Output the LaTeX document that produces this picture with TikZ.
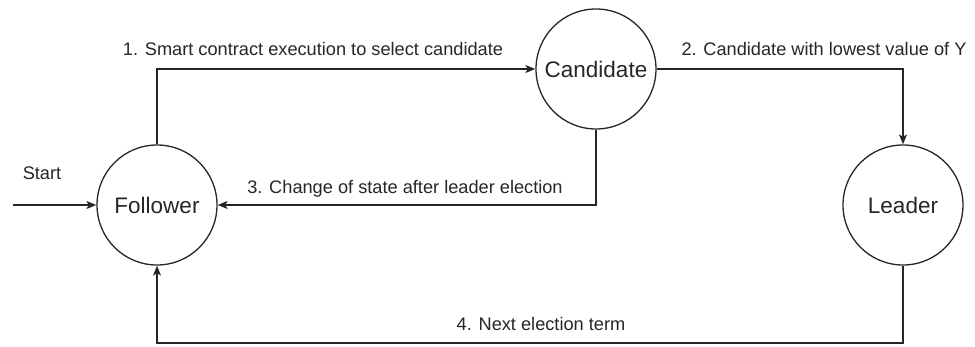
\documentclass[tikz,border=0pt]{standalone}
\usepackage{fontspec}
\setmainfont{Liberation Sans}
\usetikzlibrary{arrows.meta}
\begin{document}
\begin{tikzpicture}[x=1pt,y=-1pt,
  state/.style={draw=black!85, line width=1.3pt, circle, minimum size=120pt, inner sep=0pt, font=\fontsize{22.5}{26}\selectfont, text=black!85},
  arr/.style={draw=black!85, line width=1.3pt, -{Stealth[length=10pt,width=8pt,inset=2.5pt]}},
  lbl/.style={font=\fontsize{18.2}{21}\selectfont, text=black!85, inner sep=0pt}]
\useasboundingbox (0,0) rectangle (975,347);
\node[state] (F) at (157,205) {Follower};
\node[state] (C) at (596,69) {Candidate};
\node[state] (L) at (903,205) {Leader};
\coordinate (s) at (13,205);
\coordinate (b) at (903,343);
\draw[arr] (s) -- (F.west);
\draw[arr] (F.north) |- (C.west);
\draw[arr] (C.east) -| (L.north);
\draw[arr] (C.south) |- (F.east);
\draw[arr] (L.south) -- (b) -| (F.south);
\node[lbl] (ls) at (42,173) {Start};
\node[lbl] (l1) at (313,49) {1. Smart contract execution to select candidate};
\node[lbl] (l2) at (824,49) {2. Candidate with lowest value of Y};
\node[lbl] (l3) at (405,189) {3. Change of state after leader election};
\node[lbl] (l4) at (541,324) {4. Next election term};
\end{tikzpicture}
\end{document}
